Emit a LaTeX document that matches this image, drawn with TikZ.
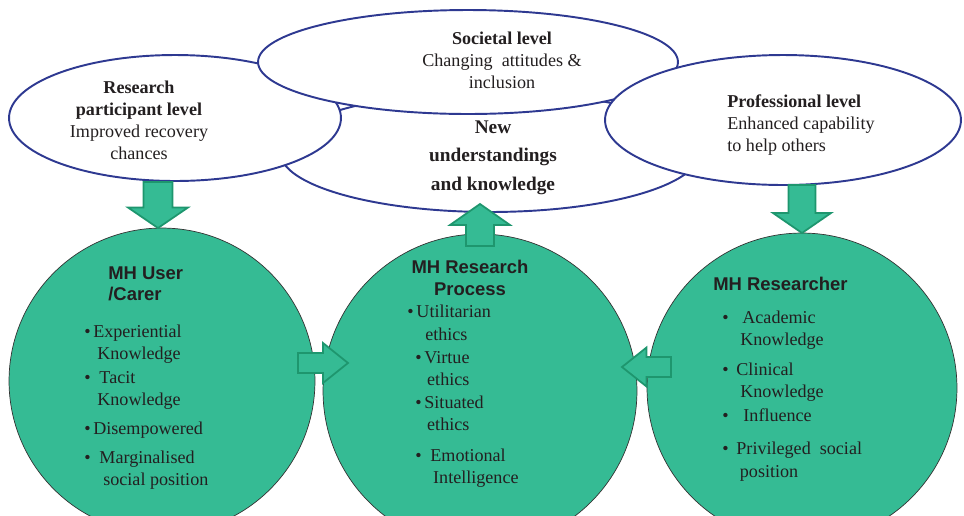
\documentclass[tikz,border=0pt]{standalone}
\usepackage{fontspec}
\setmainfont{Liberation Serif}
\newfontfamily\headfont{Liberation Sans}
\usepackage{tikz}
\usetikzlibrary{calc,
                shapes.geometric}

\definecolor{circlegreen}{RGB}{53,187,148}
\definecolor{arrowedge}{RGB}{30,150,110}
\definecolor{ellipseblue}{RGB}{46,57,145}
\definecolor{inkgray}{RGB}{35,31,32}

\tikzset{
    fatarrow/.style n args={3}{fill=circlegreen, draw=arrowedge, line width=1pt,
        to path={($(\tikztostart)!#1!90:(\tikztotarget)$)
            -- ($($(\tikztotarget)!#3!(\tikztostart)$)!#1!90:(\tikztotarget)$)
            -- ($($(\tikztotarget)!#3!(\tikztostart)$)!#2!90:(\tikztotarget)$)
            -- (\tikztotarget)
            -- ($($(\tikztotarget)!#3!(\tikztostart)$)!#2!-90:(\tikztotarget)$)
            -- ($($(\tikztotarget)!#3!(\tikztostart)$)!#1!-90:(\tikztotarget)$)
            -- ($(\tikztostart)!#1!-90:(\tikztotarget)$) -- cycle}}
}

\begin{document}
\begin{tikzpicture}[x=0.02cm, y=-0.02cm, text=inkgray]

\useasboundingbox (0,0) rectangle (964,515);

% the four levels
\begin{scope}[level/.style = {ellipse, draw=ellipseblue, line width=1.1pt, fill=white, inner sep=0pt}]
    \node[level, minimum width=8.4cm, minimum height=2.4cm] (new) at (490,152) {};
    \node[level, minimum width=6.64cm, minimum height=2.52cm] (participant) at (175,118) {};
    \node[level, minimum width=8.4cm, minimum height=2.08cm] (societal) at (468,62) {};
    \node[level, minimum width=7.12cm, minimum height=2.6cm] (professional) at (783,120) {};
\end{scope}

\begin{scope}[leveltxt/.style = {inner sep=0pt, font=\fontsize{10.3}{12.5}\selectfont}]
    \node[leveltxt, align=center, anchor=north] (participant-txt) at (139,81)
        {\textbf{Research}\\\textbf{participant level}\\Improved recovery\\chances};
    \node[leveltxt, align=center, anchor=north] (societal-txt) at (502,32)
        {\textbf{Societal level}\\Changing\ \ attitudes \&\\inclusion};
    \node[leveltxt, align=left, anchor=north west] (professional-txt) at (727,94)
        {\textbf{Professional level}\\Enhanced capability\\to help others};
    \node[inner sep=0pt, align=center, anchor=north, font=\fontsize{11}{16.4}\selectfont\bfseries] (new-txt) at (493,120)
        {New\\understandings\\and knowledge};
\end{scope}

% the three actors
\begin{scope}[actor/.style = {circle, draw=black!80, line width=0.4pt, fill=circlegreen, inner sep=0pt}]
    \node[actor, minimum size=6.12cm] (user) at (162,381) {};
    \node[actor, minimum size=6.28cm] (process) at (480,391) {};
    \node[actor, minimum size=6.2cm] (researcher) at (802,388) {};
\end{scope}

\begin{scope}[head/.style = {inner sep=0pt, font=\headfont\bfseries\fontsize{10.5}{12.3}\selectfont},
              items/.style = {inner sep=0pt, align=left, anchor=north west, font=\fontsize{10.3}{12.3}\selectfont}]
    \node[head, align=left, anchor=north west] (user-head) at (108,266) {MH User\\/Carer};
    \node[head, align=center, anchor=north] (process-head) at (470,260) {MH Research\\Process};
    \node[head, align=left, anchor=north west] (researcher-head) at (713,277) {MH Researcher};

    \node[items] (user-items) at (84,325)
        {•\hspace{1.5pt}Experiential\\
         \hspace*{7.4pt}Knowledge\\[1.3pt]
         •\hspace{5pt}Tacit\\
         \hspace*{7.4pt}Knowledge\\[4.7pt]
         •\hspace{1.5pt}Disempowered\\[4.1pt]
         •\hspace{5pt}Marginalised\\
         \hspace*{10.8pt}social position};
    \node[items] (process-items) at (407,305)
        {•\hspace{1.6pt}Utilitarian\\[0.7pt]
         \hspace*{10.2pt}ethics\\[0.7pt]
         \hspace*{4.5pt}•\hspace{1.6pt}Virtue\\
         \hspace*{11.3pt}ethics\\[0.7pt]
         \hspace*{4.5pt}•\hspace{1.6pt}Situated\\[0.7pt]
         \hspace*{11.3pt}ethics\\[5.3pt]
         \hspace*{4.5pt}•\hspace{5pt}Emotional\\
         \hspace*{14.7pt}Intelligence};
    \node[items] (researcher-items) at (722,311)
        {•\hspace{7.8pt}Academic\\
         \hspace*{10.2pt}Knowledge\\[4.7pt]
         •\hspace{4.4pt}Clinical\\
         \hspace*{10.2pt}Knowledge\\[1.9pt]
         •\hspace{8.4pt}Influence\\[6.4pt]
         •\hspace{4.4pt}Privileged\ \ social\\[0.7pt]
         \hspace*{10pt}position};
\end{scope}

% block arrows
\coordinate (participant-out) at (158,182);
\coordinate (user-in) at (158,228);
\coordinate (process-out) at (480,246);
\coordinate (new-in) at (480,204);
\coordinate (professional-out) at (802,185);
\coordinate (researcher-in) at (802,233);
\coordinate (user-out) at (298,363);
\coordinate (process-in-l) at (348,363);
\coordinate (researcher-out) at (671,367);
\coordinate (process-in-r) at (622,367);

\path[fatarrow={0.29cm}{0.6cm}{0.41cm}] (participant-out) to (user-in);
\path[fatarrow={0.28cm}{0.6cm}{0.42cm}] (process-out) to (new-in);
\path[fatarrow={0.27cm}{0.58cm}{0.4cm}] (professional-out) to (researcher-in);
\path[fatarrow={0.2cm}{0.4cm}{0.5cm}] (user-out) to (process-in-l);
\path[fatarrow={0.2cm}{0.39cm}{0.49cm}] (researcher-out) to (process-in-r);

\end{tikzpicture}
\end{document}
